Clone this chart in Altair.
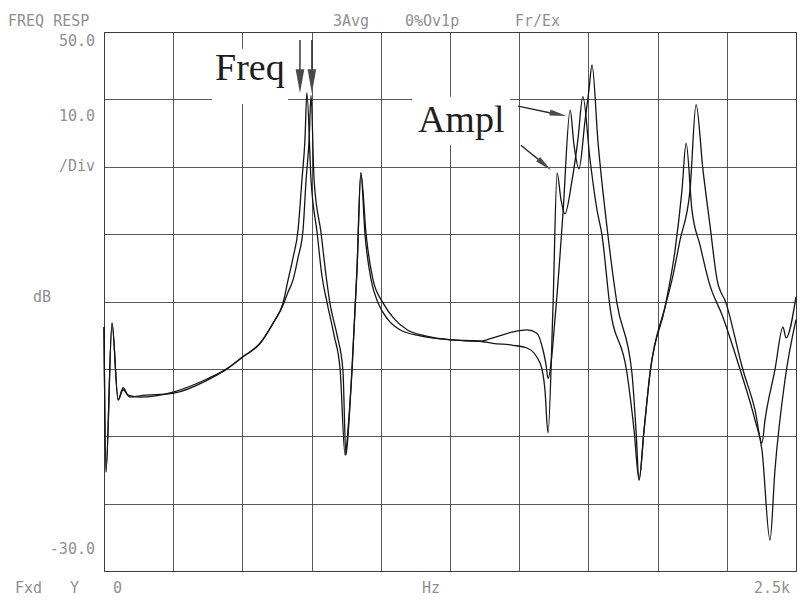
import altair as alt
import pandas as pd

# ---- Frequency response, curve A (Hz, dB) ----
freq_a = [0, 7, 29, 51, 69, 94, 130, 253, 372, 444, 502, 564, 611, 647, 665, 683, 701, 715, 726, 733,
          748, 770, 787, 806, 831, 853, 871, 885, 896, 914, 928, 943, 965, 990, 1026, 1069, 1142, 1257, 1358,
          1405, 1478, 1528, 1575, 1593, 1604, 1622, 1637, 1651, 1665, 1691, 1712, 1730, 1756, 1781, 1799,
          1828, 1889, 1915, 1933, 1951, 1973, 2027, 2063, 2088, 2103, 2124, 2153, 2189, 2233, 2298, 2352, 2377, 2406,
          2424, 2460, 2500]
db_a = [6.2, -15.3, 6.8, -4.6, -3.1, -4.2, -4.0, -3.6, -1.7, 0.0, 1.8, 3.8, 6.8, 9.8, 13.2, 16.5, 20.6, 28.0, 34.0, 41.0,
        28.0, 20.2, 13.9, 9.8, 5.0, -0.1, -12.8, -7.1, -0.1, 14.7, 29.1, 19.9, 13.2, 9.8, 7.3, 5.8, 4.9, 4.3, 4.1,
        3.8, 3.5, 3.1, 0.9, -3.1, -9.5, 9.2, 29.1, 25.1, 23.0, 28.0, 34.0, 40.4, 31.0, 23.6, 19.9,
        9.2, -0.5, -9.1, -16.5, -9.1, -0.5, 9.2, 17.6, 26.5, 33.5, 23.6, 18.4, 12.4, 8.0, -0.1, -7.6, -12.0, -25.4,
        -15.0, -1.7, 7.3]

# ---- Frequency response, curve B (Hz, dB) ----
freq_b = [0, 7, 29, 51, 69, 87, 130, 253, 372, 444, 502, 564, 611, 647, 665, 683, 701, 719, 730, 741,
          748, 759, 784, 802, 816, 842, 863, 874, 887, 896, 914, 928, 947, 972, 1008, 1051, 1095, 1160, 1257,
          1358, 1405, 1478, 1528, 1564, 1586, 1597, 1604, 1633, 1658, 1684, 1698, 1716, 1738, 1752, 1763,
          1785, 1817, 1853, 1907, 1922, 1933, 1951, 1973, 2027, 2052, 2081, 2117, 2139, 2164, 2189, 2215, 2247, 2308,
          2352, 2377, 2388, 2424, 2453, 2464, 2500]
db_b = [6.2, -15.3, 6.8, -4.6, -2.8, -3.9, -4.2, -3.4, -1.5, 0.0, 1.8, 3.8, 6.8, 9.5, 11.4, 13.2, 16.5, 20.6, 28.0, 34.0,
        40.6, 28.0, 20.2, 13.9, 9.8, 5.0, -0.1, -12.8, -6.5, -0.1, 14.7, 29.1, 19.9, 13.2, 9.8, 7.3, 5.8, 4.9, 4.3,
        4.1, 4.6, 5.5, 5.8, 5.3, 2.8, 0.6, -1.4, 9.2, 23.0, 38.4, 33.2, 29.7, 36.9, 41.4, 45.1,
        33.5, 21.1, 9.8, -0.5, -9.1, -16.5, -9.1, -0.5, 9.2, 13.2, 19.1, 26.5, 39.2, 29.5, 21.4, 13.2, 9.8, -0.1,
        -6.1, -11.0, -7.6, -0.1, 6.2, 4.6, 10.7]

x_ticks = [0, 250, 500, 750, 1000, 1250, 1500, 1750, 2000, 2250, 2500]
y_ticks = [-30, -20, -10, 0, 10, 20, 30, 40, 50]

# screen labels of the analyser
label_texts = ["FREQ RESP", "3Avg", "0%Ov1p", "Fr/Ex", "dB", "Fxd", "Y", "0", "Hz"]
right_texts = ["50.0", "10.0", "/Div", "-30.0", "2.5k"]

# annotations
note_texts = ["Freq", "Ampl"]
note_f = [401, 1134]
note_db = [42.9, 35.2]

# ---- layout (pixel offsets relative to the plot area) ----
label_pos = [(-96, -6), (229, -6), (301, -6), (411, -6), (-71, 270), (-89, 561), (-34, 561), (9, 561), (318, 561)]
right_pos = [(-9, 14), (-9, 89), (-9, 139), (-9, 522), (686, 561)]

df = pd.DataFrame({
    "f": freq_a + freq_b,
    "db": db_a + db_b,
    "curve": ["A"] * len(freq_a) + ["B"] * len(freq_b),
    "order": list(range(len(freq_a))) + list(range(len(freq_b))),
})

xs = alt.Scale(domain=[0, 2500], nice=False, zero=False)
ys = alt.Scale(domain=[-30, 50], nice=False, zero=False)

grid_axis_x = alt.Axis(values=x_ticks, grid=True, labels=False, ticks=False, domain=False, title=None,
                       gridColor="#3c3c3c", gridWidth=1, gridOpacity=0.85)
grid_axis_y = alt.Axis(values=y_ticks, grid=True, labels=False, ticks=False, domain=False, title=None,
                       gridColor="#3c3c3c", gridWidth=1, gridOpacity=0.85)

lines = alt.Chart(df).mark_line(color="#151515", strokeWidth=1.3, interpolate="monotone").encode(
    x=alt.X("f:Q", scale=xs, axis=grid_axis_x),
    y=alt.Y("db:Q", scale=ys, axis=grid_axis_y),
    detail="curve:N",
    order="order:Q",
)

# white patches where the pasted annotation labels cover the grid
patch_df = pd.DataFrame({"f1": [390, 1113], "f2": [665, 1467], "d1": [47.5, 40.4], "d2": [39.3, 33.2]})
patches = alt.Chart(patch_df).mark_rect(color="white").encode(
    x=alt.X("f1:Q", scale=xs), x2="f2:Q", y=alt.Y("d1:Q", scale=ys), y2="d2:Q"
)

notes_df = pd.DataFrame({"t": note_texts, "f": note_f, "db": note_db})
notes = alt.Chart(notes_df).mark_text(
    font="Liberation Serif", fontSize=38, color="#1e1e1e", align="left", baseline="alphabetic"
).encode(x=alt.X("f:Q", scale=xs), y=alt.Y("db:Q", scale=ys), text="t:N")

# arrows: shafts
shaft_df = pd.DataFrame({
    "f1": [708, 751, 1496, 1506],
    "d1": [48.8, 48.8, 39.0, 33.2],
    "f2": [708, 751, 1623, 1578],
    "d2": [43.6, 43.6, 37.9, 30.8],
})
shafts = alt.Chart(shaft_df).mark_rule(color="#2a2a2a", strokeWidth=1.4).encode(
    x=alt.X("f1:Q", scale=xs), y=alt.Y("d1:Q", scale=ys), x2="f2:Q", y2="d2:Q"
)
head_df = pd.DataFrame({
    "f": [708, 751, 1641, 1592],
    "db": [42.7, 42.7, 37.8, 30.3],
    "ang": [180, 180, 102, 130],
    "sz": [576, 576, 289, 289],
})
heads = alt.Chart(head_df).mark_point(
    shape="M0,-1L-0.36,1L0.36,1Z", filled=True, color="#4a4a4a", opacity=1
).encode(
    x=alt.X("f:Q", scale=xs), y=alt.Y("db:Q", scale=ys),
    angle=alt.Angle("ang:Q", scale=None),
    size=alt.Size("sz:Q", scale=None, legend=None),
)

label_layers = []
for t, (px, py) in zip(label_texts, label_pos):
    label_layers.append(
        alt.Chart(pd.DataFrame({"t": [t]})).mark_text(
            font="DejaVu Sans Mono", fontSize=15, color="#8f8f8f", align="left", baseline="alphabetic"
        ).encode(x=alt.value(px), y=alt.value(py), text="t:N")
    )
for t, (px, py) in zip(right_texts, right_pos):
    label_layers.append(
        alt.Chart(pd.DataFrame({"t": [t]})).mark_text(
            font="DejaVu Sans Mono", fontSize=15, color="#8f8f8f", align="right", baseline="alphabetic"
        ).encode(x=alt.value(px), y=alt.value(py), text="t:N")
    )

chart = alt.layer(patches, lines, notes, shafts, heads, *label_layers).properties(
    width=692, height=539,
    autosize=alt.AutoSizeParams(type="none"),
    padding={"left": 104, "top": 32, "right": 4, "bottom": 31},
    background="white",
).configure_view(stroke="#3c3c3c", strokeWidth=1)

chart.save("out.html", embed_options={"renderer": "svg", "actions": False})
